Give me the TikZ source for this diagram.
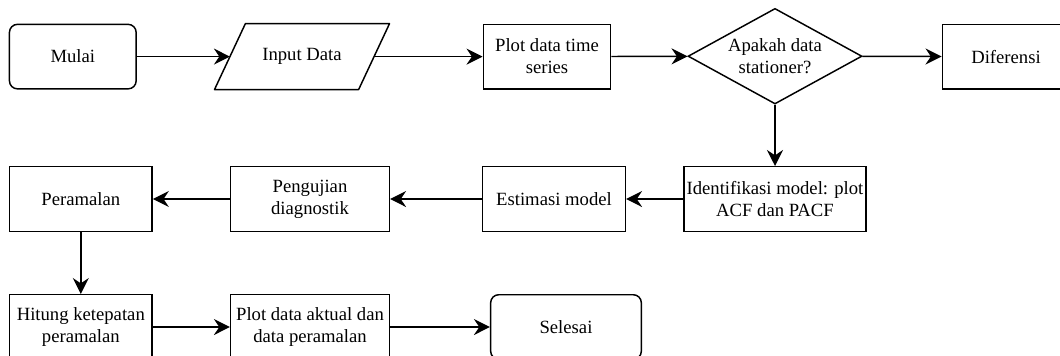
\documentclass[tikz,border=0pt]{standalone}
\usepackage{fontspec}
\setmainfont{Liberation Serif}
\usetikzlibrary{arrows.meta,shapes.geometric}

\begin{document}
\begin{tikzpicture}[
  x=0.75pt, y=-0.75pt,
  box/.style={draw, line width=1.1pt, minimum height=48.4pt, inner sep=1pt,
    align=center, font=\fontsize{14}{16.5}\selectfont},
  term/.style={box, rounded corners=6pt},
  inout/.style={box, draw=none, minimum width=107pt},
  cond/.style={box, diamond, aspect=1.8, inner sep=0pt,
    minimum width=130.5pt, minimum height=71.7pt},
  arr/.style={-{Stealth[length=12pt, width=12pt, inset=4pt]}, line width=1.1pt},
]
\useasboundingbox (0,0) rectangle (1060,355);
\clip (0,0) rectangle (1060,355);
% first row
\node[term, minimum width=95pt] (mul) at (72.8,56.6) {Mulai};
\node[inout] (inp) at (302,56.6) {Input Data};
\draw[line width=1.1pt, line join=round]
  ([xshift=-11.6pt]inp.south west) -- ([xshift=11.6pt]inp.north west)
  -- ([xshift=11.6pt]inp.north east) -- ([xshift=-11.6pt]inp.south east) -- cycle;
\node[box, minimum width=95.6pt] (plt) at (547,56.6) {Plot data time\\series};
\node[cond] (dia) at (775,56.2) {Apakah data\\stationer?};
\node[box, minimum width=95.6pt] (dif) at (1006,56.6) {Diferensi};
% second row
\node[box, minimum width=136.5pt] (idf) at (775,199) {Identifikasi model: plot\\ACF dan PACF};
\node[box, minimum width=107pt] (est) at (554,199) {Estimasi model};
\node[box, minimum width=119pt] (uji) at (310,199) {Pengujian\\diagnostik};
\node[box, minimum width=107pt] (ram) at (80.8,199) {Peramalan};
% third row
\node[box, minimum width=107pt] (hit) at (80.8,327) {Hitung ketepatan\\peramalan};
\node[box, minimum width=119pt] (pak) at (310,327) {Plot data aktual dan\\data peramalan};
\node[term, minimum width=113pt] (sel) at (566,327) {Selesai};
% connectors
\draw[arr] (mul) -- (inp);
\draw[arr] (inp) -- (plt);
\draw[arr] (plt) -- (dia);
\draw[arr] (dia) -- (dif);
\draw[arr] (dia.south) -- (idf.north);
\draw[arr] (idf) -- (est);
\draw[arr] (est) -- (uji);
\draw[arr] (uji) -- (ram);
\draw[arr] (ram.south) -- (hit.north);
\draw[arr] (hit) -- (pak);
\draw[arr] (pak) -- (sel);
\end{tikzpicture}
\end{document}
